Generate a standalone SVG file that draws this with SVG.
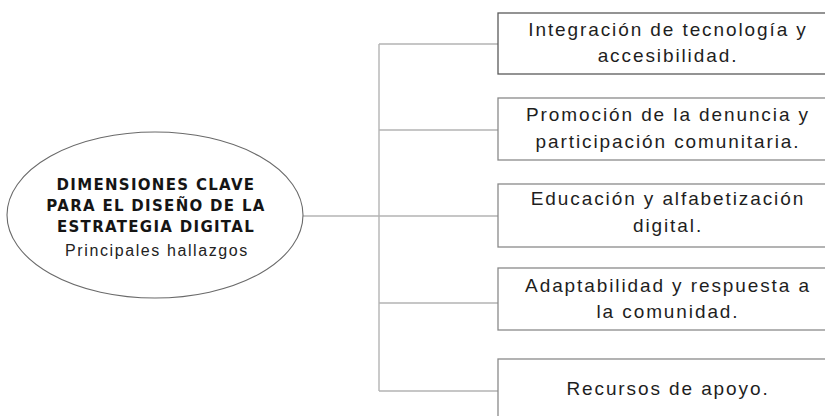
<svg xmlns="http://www.w3.org/2000/svg" width="825" height="416" viewBox="0 0 825 416">
<style>
.box{fill:#fff;stroke:#8a8a8a;stroke-width:1.3}
.conn{fill:none;stroke:#b4b4b4;stroke-width:1.4}
.bt{font-family:"Liberation Sans",Arial,sans-serif;font-size:19px;letter-spacing:1.9px;fill:#1e1e1e;text-anchor:middle}
.ht{font-family:"DejaVu Sans","Liberation Sans",sans-serif;font-size:15px;font-weight:bold;letter-spacing:1.3px;fill:#151515;text-anchor:middle}
.st{font-family:"Liberation Sans",Arial,sans-serif;font-size:16px;letter-spacing:1.6px;fill:#222;text-anchor:middle}
</style>
<rect width="825" height="416" fill="#fff"/>
<g id="connectors">
<path class="conn" d="M303 216 H379"/>
<path class="conn" d="M379 44 V391"/>
<path class="conn" d="M379 44 H498 M379 130 H498 M379 216 H498 M379 303 H498 M379 391 H498"/>
</g>
<g id="center">
<ellipse cx="155" cy="215" rx="148" ry="83" fill="#fff" stroke="#6a6a6a" stroke-width="1.1"/>
<text class="ht" x="156" y="190">DIMENSIONES CLAVE</text>
<text class="ht" x="156" y="211">PARA EL DISEÑO DE LA</text>
<text class="ht" x="156" y="232">ESTRATEGIA DIGITAL</text>
<text class="st" x="157" y="256">Principales hallazgos</text>
</g>
<g id="n1">
<rect class="box" x="498" y="13" width="345" height="61" style="stroke:#5a5a5a"/>
<text class="bt" x="668" y="36">Integración de tecnología y</text>
<text class="bt" x="668" y="62">accesibilidad.</text>
</g>
<g id="n2">
<rect class="box" x="498" y="98" width="345" height="62"/>
<text class="bt" x="668" y="121">Promoción de la denuncia y</text>
<text class="bt" x="668" y="148">participación comunitaria.</text>
</g>
<g id="n3">
<rect class="box" x="498" y="184" width="345" height="63"/>
<text class="bt" x="668" y="205">Educación y alfabetización</text>
<text class="bt" x="668" y="232">digital.</text>
</g>
<g id="n4">
<rect class="box" x="498" y="268" width="345" height="62"/>
<text class="bt" x="668" y="292">Adaptabilidad y respuesta a</text>
<text class="bt" x="668" y="318">la comunidad.</text>
</g>
<g id="n5">
<rect class="box" x="498" y="359" width="345" height="80"/>
<text class="bt" x="668" y="395">Recursos de apoyo.</text>
</g>
</svg>
